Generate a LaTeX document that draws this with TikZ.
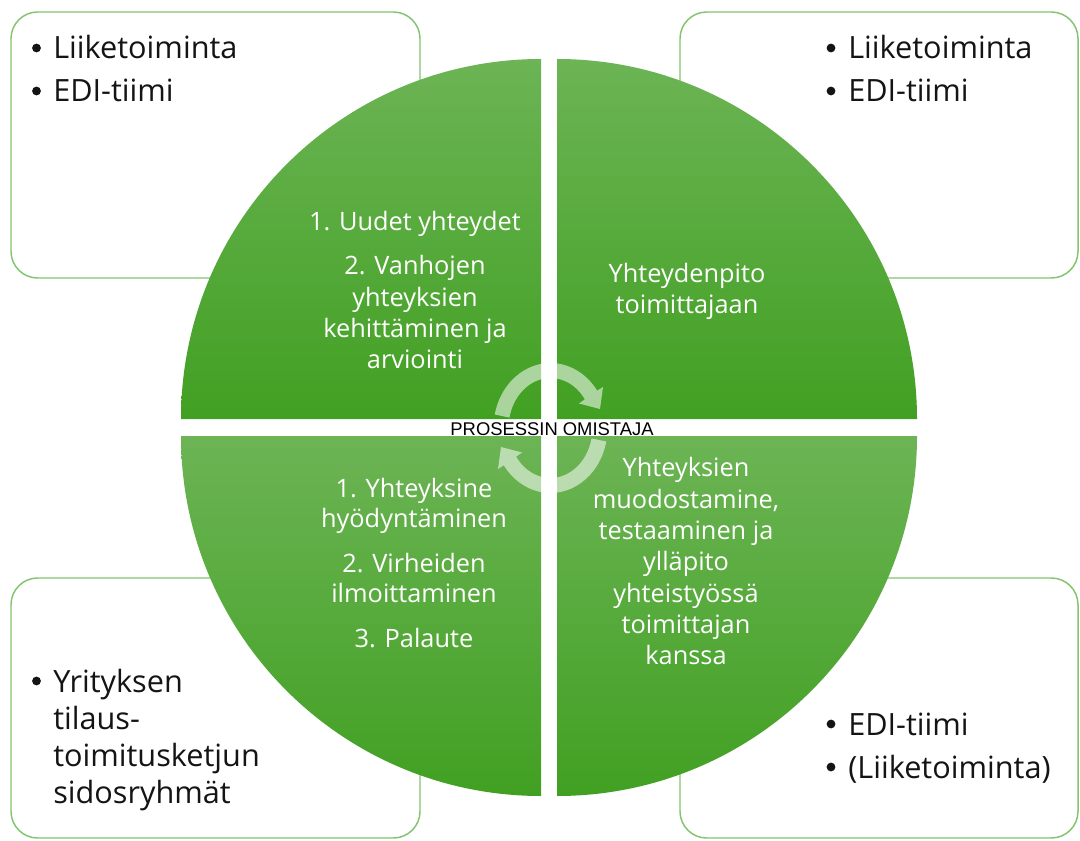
\documentclass[tikz,border=0pt]{standalone}
\usepackage{fontspec}
\setmainfont{Open Sans}
\newfontfamily\labelfont{Liberation Sans}
\usetikzlibrary{calc}
\definecolor{gl}{HTML}{6CB455}
\definecolor{gm}{HTML}{52AC31}
\definecolor{gd}{HTML}{41A022}
\definecolor{boxline}{HTML}{82C46F}
\definecolor{ink}{HTML}{141414}
\begin{document}
\begin{tikzpicture}[x=0.75pt,y=-0.75pt,
  infobox/.style={draw=boxline,line width=1.1pt,fill=white,rounded corners=20pt},
  sector/.style={top color=gl,middle color=gm,bottom color=gd,draw=none},
  sectxt/.style={anchor=base,text=white,font=\fontsize{19}{23}\selectfont,inner sep=0pt},
  boxtxt/.style={anchor=base west,text=ink,font=\fontsize{23}{28}\selectfont,inner sep=0pt},
  bul/.style={circle,fill=ink,inner sep=0pt,minimum size=6.6pt},
  arrowband/.style={fill=white,fill opacity=0.55,draw=none}]

\useasboundingbox (0,0) rectangle (1080,841);

% outer boxes
\draw[infobox] (11,12) rectangle (420,278);
\draw[infobox] (680,12) rectangle (1078,278);
\draw[infobox] (11,578) rectangle (420,838);
\draw[infobox] (680,578) rectangle (1078,838);

% quarter sectors
\shade[sector] (541,419) -- (181,419) arc[start angle=180,end angle=270,radius=360] -- cycle;
\shade[sector] (557,419) -- (557,59) arc[start angle=270,end angle=360,radius=360] -- cycle;
\shade[sector] (541,436) -- (181,436) arc[start angle=180,end angle=90,radius=360] -- cycle;
\shade[sector] (557,436) -- (917,436) arc[start angle=0,end angle=90,radius=360] -- cycle;

% circular arrows
\coordinate (C) at (550.5,428);
\fill[arrowband] ($(C)+(-168:57 and 65)$) arc[start angle=-168,end angle=-35,x radius=57,y radius=65]
  -- (603,387) -- (600,409) -- (579,403.5)
  -- ($(C)+(-35:42 and 50)$) arc[start angle=-35,end angle=-168,x radius=42,y radius=50] -- cycle;
\fill[arrowband] ($(C)+(12:57 and 65)$) arc[start angle=12,end angle=145,x radius=57,y radius=65]
  -- (498,469) -- (501,447) -- (522,452.5)
  -- ($(C)+(145:42 and 50)$) arc[start angle=145,end angle=12,x radius=42,y radius=50] -- cycle;

% sector texts
\foreach \t/\y [count=\i] in {{1. Uudet yhteydet}/231,{2. Vanhojen}/275,{yhteyksien}/306,{kehittäminen ja}/337,{arviointi}/368}
  \node[sectxt] (tl\i) at (415,\y) {\t};
\foreach \t/\y [count=\i] in {{Yhteydenpito}/283,{toimittajaan}/314}
  \node[sectxt] (tr\i) at (687,\y) {\t};
\foreach \t/\y [count=\i] in {{1. Yhteyksine}/497,{hyödyntäminen}/527,{2. Virheiden}/572,{ilmoittaminen}/602,{3. Palaute}/647}
  \node[sectxt] (bl\i) at (414,\y) {\t};
\foreach \t/\y [count=\i] in {{Yhteyksien}/476,{muodostamine,}/508,{testaaminen ja}/539,{ylläpito}/570,{yhteistyössä}/602,{toimittajan}/633,{kanssa}/664}
  \node[sectxt] (br\i) at (686,\y) {\t};

% box texts
\node[bul] (tlb1) at (36.5,48) {};
\node[boxtxt] (tlt1) at (53,59) {Liiketoiminta};
\node[bul] (tlb2) at (36.5,91) {};
\node[boxtxt] (tlt2) at (53,102) {EDI-tiimi};

\node[bul] (trb1) at (831,48) {};
\node[boxtxt] (trt1) at (848,59) {Liiketoiminta};
\node[bul] (trb2) at (831,91) {};
\node[boxtxt] (trt2) at (848,102) {EDI-tiimi};

\node[bul] (blb1) at (36.5,681) {};
\foreach \t/\y [count=\i] in {{Yrityksen}/692,{tilaus-}/729,{toimitusketjun}/766,{sidosryhmät}/803}
  \node[boxtxt] (blt\i) at (53,\y) {\t};

\node[bul] (brb1) at (831,724) {};
\node[boxtxt] (brt1) at (848,735) {EDI-tiimi};
\node[bul] (brb2) at (831,767) {};
\node[boxtxt] (brt2) at (848,778) {(Liiketoiminta)};

% centre label
\node[anchor=base,inner sep=0pt,text=black,font=\labelfont\fontsize{13.8}{16}\selectfont] (owner) at (552,435) {PROSESSIN OMISTAJA};
\end{tikzpicture}
\end{document}
